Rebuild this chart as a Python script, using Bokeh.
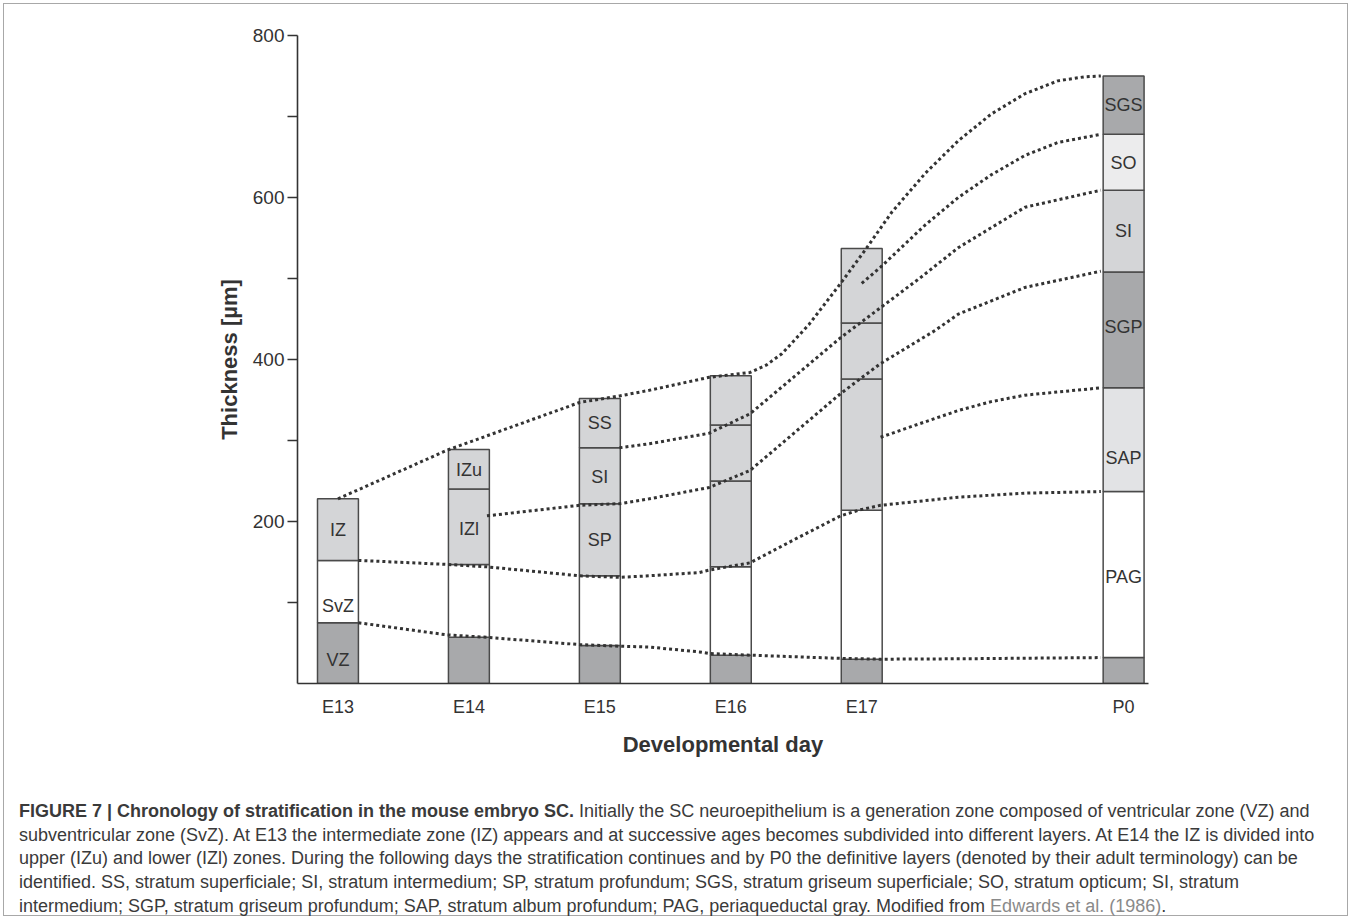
from bokeh.plotting import figure
from bokeh.models import Range1d, FixedTicker, ColumnDataSource, Div
from bokeh.layouts import column
from bokeh.core.properties import value
from bokeh.embed import file_html
from bokeh.resources import INLINE

# ---------------- data ----------------
days = ["E13", "E14", "E15", "E16", "E17", "P0"]
day_pos = [0, 1, 2, 3, 4, 6]

bounds_E13 = [0, 75, 152, 228]
bounds_E14 = [0, 57, 147, 240, 289]
bounds_E15 = [0, 47, 133, 222, 291, 352]
bounds_E16 = [0, 35, 144, 250, 319, 380]
bounds_E17 = [0, 30, 214, 376, 445, 537]
bounds_P0 = [0, 32, 237, 365, 508, 609, 678, 750]

shade_E13 = ["dark", "white", "light"]
shade_E14 = ["dark", "white", "light", "light"]
shade_E15 = ["dark", "white", "light", "light", "light"]
shade_E16 = ["dark", "white", "light", "light", "light"]
shade_E17 = ["dark", "white", "light", "light", "light"]
shade_P0 = ["dark", "white", "pale", "dark", "light", "paler", "dark"]

shade_colors = {"dark": "#a8a9ab", "light": "#d4d5d7", "pale": "#e2e3e5",
                "paler": "#ececed", "white": "#ffffff"}

label_text = ["IZ", "SvZ", "VZ", "IZu", "IZl", "SS", "SI", "SP",
              "SGS", "SO", "SI", "SGP", "SAP", "PAG"]
label_x = [0, 0, 0, 1, 1, 2, 2, 2, 6, 6, 6, 6, 6, 6]
label_y = [189, 96, 29, 263, 191, 321, 255, 177, 714, 642, 559, 440, 278, 131]

# dotted connecting curves (x in day-position units)
curve_top_x = [0.0, 0.833, 1.846, 2.150, 2.378, 2.835, 3.147, 3.270, 3.390, 3.596, 3.839, 4.030, 4.230, 4.486, 4.737, 4.989, 5.245, 5.498, 5.700, 5.826]
curve_top_y = [228, 288, 347, 355, 362, 378, 384, 393, 407, 443, 494, 536, 582, 630, 670, 703, 728, 744, 749, 750]

curve_sgs_x = [4.0, 4.144, 4.484, 4.737, 4.989, 5.247, 5.500, 5.826]
curve_sgs_y = [494, 514, 566, 600, 628, 652, 668, 678]

curve_so_x = [2.150, 2.378, 2.835, 3.147, 3.839, 4.144, 4.440, 4.737, 5.247, 5.826]
curve_so_y = [291, 296, 309, 333, 427, 464, 500, 538, 588, 609]

curve_si_x = [1.138, 1.846, 2.150, 2.378, 2.835, 3.147, 3.839, 4.144, 4.562, 4.737, 5.247, 5.826]
curve_si_y = [207, 220, 222, 228, 242, 263, 358, 395, 436, 456, 489, 509]

curve_sgp_x = [4.144, 4.357, 4.737, 4.989, 5.247, 5.826]
curve_sgp_y = [304, 316, 337, 348, 356, 365]

curve_sap_x = [0.156, 0.833, 1.138, 1.846, 2.150, 2.378, 2.759, 2.835, 3.147, 3.489, 3.839, 3.977, 4.144, 4.737, 5.247, 5.826]
curve_sap_y = [152, 147, 144, 133, 131, 133, 137, 140, 149, 178, 207, 214, 220, 230, 235, 237]

curve_vz_x = [0.156, 0.833, 1.138, 1.846, 2.150, 2.378, 2.759, 2.835, 3.147, 3.839, 4.144, 4.737, 5.826]
curve_vz_y = [75, 60, 57, 48, 46, 45, 39, 37, 35, 31, 30, 30.5, 32]

y_ticks = [100, 200, 300, 400, 500, 600, 700, 800]
y_tick_labels = {100: "", 200: "200", 300: "", 400: "400", 500: "", 600: "600", 700: "", 800: "800"}

caption_lines = [
    "<b>FIGURE 7 | Chronology of stratification in the mouse embryo SC.</b> Initially the SC neuroepithelium is a generation zone composed of ventricular zone (VZ) and",
    "subventricular zone (SvZ). At E13 the intermediate zone (IZ) appears and at successive ages becomes subdivided into different layers. At E14 the IZ is divided into",
    "upper (IZu) and lower (IZl) zones. During the following days the stratification continues and by P0 the definitive layers (denoted by their adult terminology) can be",
    "identified. SS, stratum superficiale; SI, stratum intermedium; SP, stratum profundum; SGS, stratum griseum superficiale; SO, stratum opticum; SI, stratum",
    "intermedium; SGP, stratum griseum profundum; SAP, stratum album profundum; PAG, periaqueductal gray. Modified from <span style='color:#8a8a8a'>Edwards et al. (1986)</span>.",
]

# ---------------- build segment table ----------------
all_bounds = [bounds_E13, bounds_E14, bounds_E15, bounds_E16, bounds_E17, bounds_P0]
all_shades = [shade_E13, shade_E14, shade_E15, shade_E16, shade_E17, shade_P0]
seg_x, seg_bot, seg_top, seg_col = [], [], [], []
for pos, bnds, shades in zip(day_pos, all_bounds, all_shades):
    for i, sh in enumerate(shades):
        seg_x.append(pos)
        seg_bot.append(bnds[i])
        seg_top.append(bnds[i + 1])
        seg_col.append(shade_colors[sh])
seg_src = ColumnDataSource(dict(x=seg_x, bottom=seg_bot, top=seg_top, color=seg_col))

# ---------------- figure ----------------
p = figure(width=1345, height=771, x_range=Range1d(-0.309, 6.19), y_range=Range1d(0, 800),
           output_backend="svg", toolbar_location=None,
           min_border_left=293, min_border_right=199, min_border_top=31, min_border_bottom=92)
p.xgrid.visible = False
p.ygrid.visible = False
p.outline_line_color = None
p.background_fill_color = "white"
p.border_fill_color = "white"

p.vbar(x="x", bottom="bottom", top="top", width=0.3125, fill_color="color",
       line_color="#4a4a4a", line_width=1.5, source=seg_src)

curves = [(curve_top_x, curve_top_y), (curve_sgs_x, curve_sgs_y), (curve_so_x, curve_so_y),
          (curve_si_x, curve_si_y), (curve_sgp_x, curve_sgp_y), (curve_sap_x, curve_sap_y),
          (curve_vz_x, curve_vz_y)]
for cx, cy in curves:
    p.line(cx, cy, line_color="#333333", line_width=3, line_dash="3 3", line_join="round")

p.text(x=label_x, y=label_y, text=label_text, text_align="center", text_baseline="middle",
       text_font=value("Liberation Sans"), text_font_size="18px", text_color="#333333")

# axes
xa = p.xaxis[0]
xa.ticker = FixedTicker(ticks=day_pos)
xa.major_label_overrides = {pos: d for pos, d in zip(day_pos, days)}
xa.major_tick_out = 0
xa.major_tick_in = 0
xa.minor_tick_out = 0
xa.minor_tick_in = 0
xa.axis_line_color = "#333333"
xa.axis_line_width = 1.6
xa.major_label_text_font = "Liberation Sans"
xa.major_label_text_font_size = "18px"
xa.major_label_text_color = "#333333"
xa.major_label_standoff = 13
xa.axis_label = "Developmental day"
xa.axis_label_text_font = "Liberation Sans"
xa.axis_label_text_font_style = "bold"
xa.axis_label_text_font_size = "22px"
xa.axis_label_text_color = "#333333"
xa.axis_label_standoff = 12

ya = p.yaxis[0]
ya.ticker = FixedTicker(ticks=y_ticks)
ya.major_label_overrides = y_tick_labels
ya.major_tick_out = 10
ya.major_tick_in = 0
ya.minor_tick_out = 0
ya.minor_tick_in = 0
ya.major_tick_line_color = "#333333"
ya.major_tick_line_width = 1.5
ya.axis_line_color = "#333333"
ya.axis_line_width = 1.6
ya.major_label_text_font = "Liberation Sans"
ya.major_label_text_font_size = "19px"
ya.major_label_text_color = "#333333"
ya.major_label_standoff = 3
ya.axis_label = "Thickness [µm]"
ya.axis_label_text_font = "Liberation Sans"
ya.axis_label_text_font_style = "bold"
ya.axis_label_text_font_size = "22px"
ya.axis_label_text_color = "#333333"
ya.axis_label_standoff = 8

cap_html = ("<div style=\"font-family:'Liberation Sans',sans-serif; font-size:18px; "
            "line-height:23.7px; color:#3a3a3a; padding:20px 0 0 10px; white-space:nowrap;\">"
            + "<br>".join(caption_lines) + "</div>")
cap = Div(text=cap_html, width=1345, height=142)

layout = column(p, cap, styles={"border": "1px solid #a8a8a8", "margin": "3px",
                                "width": "1345px", "height": "913px"})

open("out.html", "w").write(file_html(layout, INLINE))
